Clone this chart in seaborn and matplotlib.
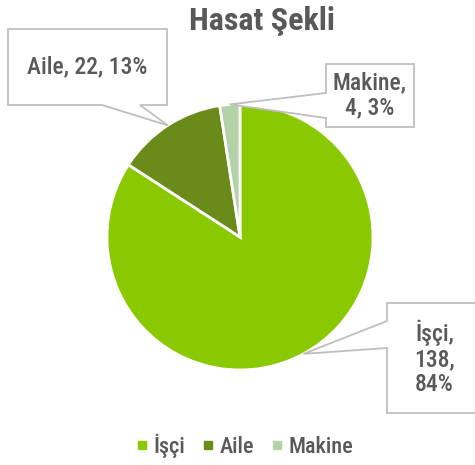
import numpy as np
import matplotlib
matplotlib.use("Agg")
import matplotlib.pyplot as plt
from matplotlib.patches import Polygon
import seaborn as sns

# data
categories = ["İşçi", "Aile", "Makine"]
counts = [138, 22, 4]
percents = ["84%", "13%", "3%"]
colors = ["#8AC800", "#6A8A1A", "#B4D2A8"]

sns.set_theme(style="white")
plt.rcParams["font.family"] = ["Roboto Condensed", "Liberation Sans Narrow", "DejaVu Sans"]
plt.rcParams["font.weight"] = "medium"
TXT = "#595959"
EDGE = "#BFBFBF"

W, H = 475, 465
fig = plt.figure(figsize=(W / 100, H / 100), dpi=100)

# pie axes (center 240,237 px from top-left, radius 133 px)
cx, cy, r = 240, 237, 133
ax = fig.add_axes([(cx - r) / W, (H - cy - r) / H, 2 * r / W, 2 * r / H])
wedges, _ = ax.pie(counts, colors=colors, startangle=90, counterclock=False,
                   wedgeprops=dict(edgecolor="white", linewidth=2))
ax.set_xlim(-1, 1)
ax.set_ylim(-1, 1)
ax.set_aspect("equal")
ax.axis("off")

# overlay in pixel coords, origin top-left
ov = fig.add_axes([0, 0, 1, 1])
ov.set_xlim(0, W)
ov.set_ylim(H, 0)
ov.axis("off")


def tip_of(w):
    ang = np.deg2rad((w.theta1 + w.theta2) / 2)
    p = ax.transData.transform((np.cos(ang), np.sin(ang)))
    return ov.transData.inverted().transform(p)


def callout(x0, y0, x1, y1, side, a, b, tip, text, fs):
    # rectangle with a pointer inserted on one edge
    if side == "bottom":
        pts = [(x0, y0), (x1, y0), (x1, y1), (b, y1), tip, (a, y1), (x0, y1)]
    else:  # left
        pts = [(x0, y0), (x1, y0), (x1, y1), (x0, y1), (x0, b), tip, (x0, a)]
    ov.add_patch(Polygon(pts, closed=True, fc="white", ec=EDGE, lw=1.3,
                         clip_on=False))
    ov.text((x0 + x1) / 2, (y0 + y1) / 2, text, ha="center", va="center",
            fontsize=fs, color=TXT, linespacing=1.1)


labels = [f"{c}, {n}, {p}" for c, n, p in zip(categories, counts, percents)]

callout(387, 303, 482, 413, "left", 321, 348, tip_of(wedges[0]),
        labels[0].replace(", ", ",\n"), 17)
callout(8, 29, 167, 105, "bottom", 102, 140, tip_of(wedges[1]),
        labels[1], 17)
callout(326, 64, 414, 127, "left", 93, 118, tip_of(wedges[2]),
        labels[2].replace(", ", ",\n", 1), 17)

fig.text(262 / W, 1 - 21 / H, "Hasat Şekli", ha="center", va="center",
         fontsize=23, fontweight="bold", color=TXT)

handles = [plt.Line2D([], [], marker="s", ls="", color=c, markersize=6)
           for c in colors]
fig.legend(handles, categories, loc="center", ncol=3, frameon=False,
           bbox_to_anchor=(245 / W, 1 - 446 / H), fontsize=16,
           labelcolor=TXT, handletextpad=0.25, columnspacing=0.8,
           handlelength=0.5)

fig.savefig("out.png", dpi=100, facecolor="white")
